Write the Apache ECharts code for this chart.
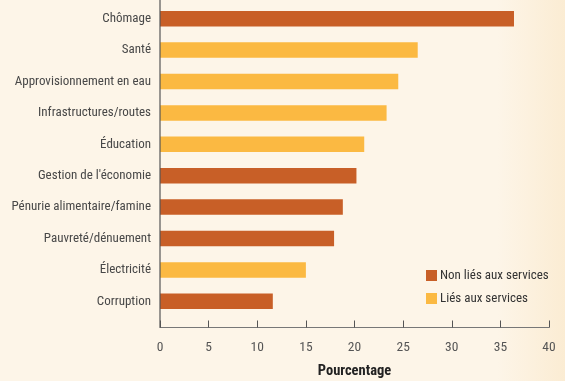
<!DOCTYPE html>
<html><head><meta charset="utf-8">
<script src="https://cdn.jsdelivr.net/npm/echarts@6/dist/echarts.min.js"></script>
<style>
html,body{margin:0;padding:0;}
#c{width:565px;height:381px;background:linear-gradient(to right,#fdf5e8 0%,#fdf5e8 88%,#fbecd3 100%);}
</style></head>
<body><div id="c"></div>
<script>
const categories = ['Chômage','Santé','Approvisionnement en eau','Infrastructures/routes','Éducation',"Gestion de l'économie",'Pénurie alimentaire/famine','Pauvreté/dénuement','Électricité','Corruption'];
const nonLies = [36.4, null, null, null, null, 20.2, 18.8, 17.9, null, 11.6];
const lies = [null, 26.5, 24.5, 23.3, 21.0, null, null, null, 15.0, null];
const xTicks = [0, 5, 10, 15, 20, 25, 30, 35, 40];

const FONT = '"Roboto Condensed", sans-serif';
const chart = echarts.init(document.getElementById('c'), null, {renderer:'canvas'});
const gridTop = 3, gridH = 314, xOffset = 10.5;
chart.setOption({
  animation: false,
  backgroundColor: 'transparent',
  textStyle: {fontFamily: FONT},
  grid: {left: 160, right: 16, top: gridTop, height: gridH, containLabel: false, outerBoundsMode: 'none'},
  legend: {
    orient: 'vertical', left: 421, top: 264, itemWidth: 11, itemHeight: 11, itemGap: 10,
    icon: 'rect',
    textStyle: {fontFamily: FONT, fontSize: 13, color: '#333', padding: [0,0,0,-2]},
    data: ['Non liés aux services', 'Liés aux services']
  },
  xAxis: {
    type: 'value', min: xTicks[0], max: xTicks[xTicks.length-1], interval: 5,
    offset: xOffset,
    splitLine: {show: false},
    axisLine: {show: true, lineStyle: {color: '#777', width: 1.2}},
    axisTick: {show: true, inside: true, length: 7, lineStyle: {color: '#555'}},
    axisLabel: {fontFamily: FONT, fontSize: 13.5, color: '#555', margin: 13},
    name: 'Pourcentage', nameLocation: 'middle', nameGap: 36,
    nameTextStyle: {fontFamily: FONT, fontSize: 14.5, fontWeight: 'bold', color: '#222'}
  },
  yAxis: {
    type: 'category', data: categories, inverse: true,
    axisLine: {show: false},
    axisTick: {show: false},
    axisLabel: {fontFamily: FONT, fontSize: 13, color: '#484848', margin: 9}
  },
  series: [
    {name: 'Non liés aux services', type: 'bar', stack: 's', data: nonLies, barWidth: 15.5,
     itemStyle: {color: '#c85f27'}},
    {name: 'Liés aux services', type: 'bar', stack: 's', data: lies, barWidth: 15.5,
     itemStyle: {color: '#fbb942'}}
  ]
});
const x0 = chart.convertToPixel({xAxisIndex: 0}, xTicks[0]);
chart.setOption({
  graphic: [{type: 'line', shape: {x1: x0, y1: 0, x2: x0, y2: gridTop + gridH + xOffset},
    style: {stroke: '#555', lineWidth: 1.2}, z: 10}]
});
</script></body></html>
